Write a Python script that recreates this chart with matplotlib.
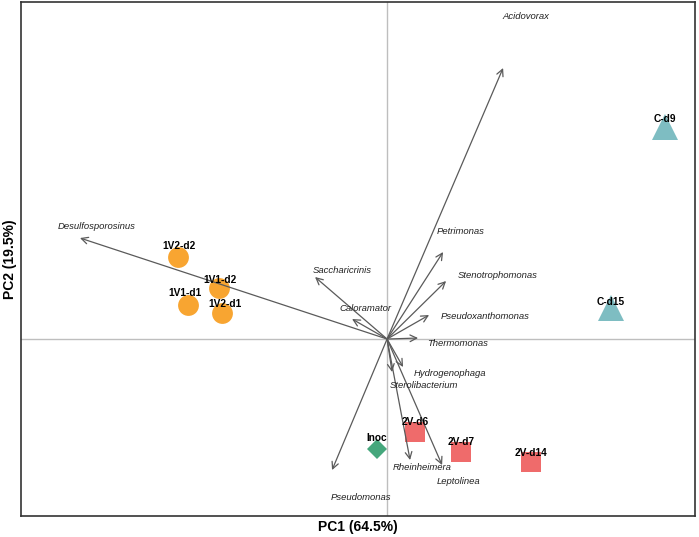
import matplotlib.pyplot as plt

plt.rcParams['font.family'] = ['Liberation Sans', 'DejaVu Sans']

# sample scores (PC1, PC2)
samples = ["1V2-d2", "1V1-d2", "1V1-d1", "1V2-d1", "Inoc",
           "2V-d6", "2V-d7", "2V-d14", "C-d9", "C-d15"]
groups = ["1V", "1V", "1V", "1V", "Inoc", "2V", "2V", "2V", "C", "C"]
pc1 = [-2.09, -1.68, -1.99, -1.65, -0.10, 0.28, 0.74, 1.44, 2.78, 2.24]
pc2 = [0.82, 0.51, 0.34, 0.26, -1.10, -0.93, -1.13, -1.23, 2.12, 0.31]

# genus loadings
genera = ["Desulfosporosinus", "Acidovorax", "Saccharicrinis", "Caloramator",
          "Petrimonas", "Stenotrophomonas", "Pseudoxanthomonas", "Thermomonas",
          "Hydrogenophaga", "Sterolibacterium", "Rheinheimera", "Leptolinea",
          "Pseudomonas"]
load1 = [-3.07, 1.16, -0.72, -0.35, 0.56, 0.59, 0.42, 0.31, 0.16, 0.05, 0.23, 0.55, -0.55]
load2 = [1.01, 2.71, 0.62, 0.20, 0.87, 0.58, 0.24, 0.01, -0.28, -0.33, -1.21, -1.26, -1.31]

# label placement (pixels, label centre relative to the point)
sample_off = [(1, -11), (1, -8), (-3, -12), (3, -9), (0, -11),
              (0, -10), (0, -10), (0, -9), (0, -8), (0, -6)]
genus_off = [(17, -12), (23, -51), (27, -7), (13, -11), (18, -21), (52, -6),
             (56, 1), (39, 5), (47, 6), (32, 13), (12, 7), (16, 16), (29, 27)]

style = {
    "1V": dict(marker="o", color="#F8A531", ms=15),
    "Inoc": dict(marker="D", color="#45A77C", ms=10.5),
    "2V": dict(marker="s", color="#EF6B6B", ms=15),
    "C": dict(marker="^", color="#7EBDC2", ms=19),
}

fig = plt.figure(figsize=(6.99, 5.37), dpi=100)
ax = fig.add_axes([0.030, 0.039, 0.9645, 0.9573])

ax.axhline(0, color="#BEBEBE", lw=1, zorder=0)
ax.axvline(0, color="#BEBEBE", lw=1, zorder=0)

for s, grp, x, y in zip(samples, groups, pc1, pc2):
    st = style[grp]
    ax.plot(x, y, linestyle="none", marker=st["marker"], color=st["color"],
            markersize=st["ms"], markeredgewidth=0, zorder=2)

for g, x, y, (dx, dy) in zip(genera, load1, load2, genus_off):
    ax.annotate("", xy=(x, y), xytext=(0, 0), zorder=3,
                arrowprops=dict(arrowstyle="->", color="#5a5a5a", lw=0.9,
                                shrinkA=0, shrinkB=0, mutation_scale=12))
    ax.annotate(g, xy=(x, y), xytext=(dx, -dy), textcoords="offset pixels",
                ha="center", va="center", fontsize=6.8, style="italic",
                color="#222222", zorder=4)

for s, x, y, (dx, dy) in zip(samples, pc1, pc2, sample_off):
    ax.annotate(s, xy=(x, y), xytext=(dx, -dy), textcoords="offset pixels",
                ha="center", va="center", fontsize=7.3, fontweight="bold",
                color="black", zorder=5)

ax.set_xlim(-3.66, 3.08)
ax.set_ylim(-1.77, 3.37)
ax.set_xticks([])
ax.set_yticks([])
for sp in ax.spines.values():
    sp.set_color("#333333")
    sp.set_linewidth(1.2)

ax.set_xlabel("PC1 (64.5%)", fontsize=10, fontweight="bold", labelpad=3)
ax.set_ylabel("PC2 (19.5%)", fontsize=10, fontweight="bold", labelpad=3)

fig.savefig("out.png", dpi=100)
